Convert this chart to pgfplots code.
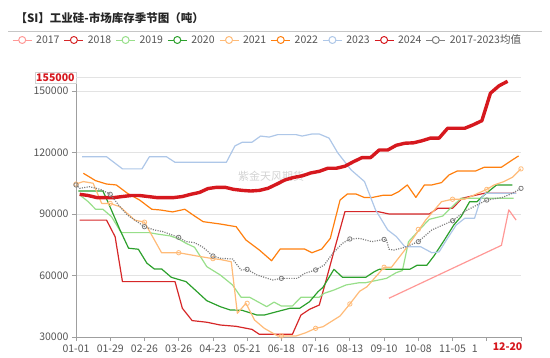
\documentclass[border=0pt]{standalone}
\usepackage{pgfplots}
\pgfplotsset{compat=1.18}
\usepackage{fontspec}
\setmainfont{Noto Sans CJK SC}
\definecolor{c17}{HTML}{FF9896}
\definecolor{c18}{HTML}{D62728}
\definecolor{c19}{HTML}{98DF8A}
\definecolor{c20}{HTML}{2CA02C}
\definecolor{c21}{HTML}{FFBB78}
\definecolor{c22}{HTML}{FF7F0E}
\definecolor{c23}{HTML}{AEC7E8}
\definecolor{c24}{HTML}{D6181E}
\definecolor{cavg}{HTML}{7F7F7F}
\definecolor{txt}{HTML}{555555}
\begin{document}
\begin{tikzpicture}[x=1pt,y=1pt]
\useasboundingbox (0,0) rectangle (550,357);
\node[anchor=west, font=\fontsize{11.5}{13}\selectfont\bfseries, text=black!85] at (12,339) {【SI】工业硅-市场库存季节图（吨）};
\draw[gray!45, line width=0.8pt] (8,326) -- (542,326);
\node[text=gray!35, font=\fontsize{11}{13}\selectfont] at (271,181) {紫金天风期货};
\begin{axis}[
  at={(76pt,20pt)}, anchor=south west,
  scale only axis, width=445pt, height=260pt,
  xmin=0, xmax=364, ymin=30000, ymax=156800,
  axis x line*=bottom, axis y line*=left,
  axis line style={draw=gray!75, line width=0.8pt, -},
  xtick={0,28,56,84,112,140,168,196,224,252,280,308,336,364},
  xticklabels={01-01,01-29,02-26,03-26,04-23,05-21,06-18,07-16,08-13,09-10,10-08,11-05,{\llap{1\hspace{9pt}}},{}},
  ytick={30000,60000,90000,120000,150000},
  scaled y ticks=false,
  /pgf/number format/assume math mode=true,
  yticklabel style={/pgf/number format/1000 sep={}, /pgf/number format/fixed},
  tick label style={text=txt, font=\fontsize{10.5}{12}\selectfont},
  ymajorgrids, grid style={gray!22, line width=0.8pt},
  tick style={gray!75, line width=0.8pt},
  major tick length=4pt, tick align=outside,
  extra y ticks={155000},
  extra y tick labels={155000},
  extra y tick style={grid=none, major tick length=0pt, tick label style={text=c24, font=\fontsize{10.5}{12}\selectfont\bfseries, fill=white, draw=gray!35, inner sep=1.2pt, yshift=3pt}},
  extra x ticks={353},
  extra x tick labels={12-20},
  extra x tick style={major tick length=0pt, tick label style={text=c24, font=\fontsize{10.5}{12}\selectfont\bfseries, fill=white, inner sep=1.5pt, yshift=-4pt}},
  legend columns=9,
  legend style={at={(-0.1438,1.1423)}, anchor=west, draw=none, fill=none, inner sep=0pt,
    font=\fontsize{10.5}{12}\selectfont, text=txt, nodes={inner sep=0pt},
    /tikz/every odd column/.append style={column sep=4pt},
    /tikz/every even column/.append style={column sep=3.7pt}},
  legend image code/.code={\draw[#1, line width=1pt, solid] (0pt,0pt) -- (19pt,0pt); \draw[#1, line width=1pt, solid, fill=white] (9.5pt,0pt) circle (3.5pt);},
  every axis plot/.append style={line width=1.2pt, mark=none, line join=round},
]
\draw[gray!22, line width=0.8pt] (rel axis cs:0,1) -- (rel axis cs:1,1);
% 2017
\addplot[c17] coordinates {(256,48900) (348,74700) (354,92000) (360,87000)};
\addlegendentry{\makebox[24pt][l]{2017}}
% 2018
\addplot[c18] coordinates {(3,87000) (25,87000) (32,78900) (38,57000) (81,57000) (87,44000) (95,38000) (107,37200) (118,35850) (131,35200) (144,33700) (150,31300) (177,31300) (184,40700) (191,43500) (199,45600) (205,58600) (212,74000) (220,91150) (247,91150) (256,90000) (289,90000) (296,92800) (308,92800) (316,97700) (334,100100) (360,100100)};
\addlegendentry{\makebox[24pt][l]{2018}}
% 2019
\addplot[c19] coordinates {(3,99300) (10,96000) (16,92300) (22,92300) (29,88700) (37,80900) (60,80900) (66,80250) (77,79300) (83,78100) (90,75700) (97,73750) (107,64300) (118,60250) (128,55400) (135,49400) (142,49400) (156,44800) (162,47000) (168,45100) (177,45100) (184,49400) (199,49400) (203,51300) (211,52900) (221,55400) (232,56500) (237,56500) (254,58600) (262,61400) (267,62400) (272,76500) (282,83000) (289,87400) (300,89000) (305,92000) (315,97700) (358,97700)};
\addlegendentry{\makebox[24pt][l]{2019}}
% 2020
\addplot[c20] coordinates {(2,101200) (22,101200) (26,96000) (36,82200) (43,73300) (51,72800) (58,66000) (64,63200) (70,63200) (78,59100) (90,57000) (99,52100) (107,47700) (118,44800) (126,43200) (136,43000) (148,40700) (154,40700) (164,42300) (175,44000) (183,44000) (191,47200) (198,52100) (202,54200) (211,63000) (218,59100) (237,59100) (244,61850) (248,63000) (273,63000) (279,65000) (287,65000) (293,69700) (301,77000) (309,84600) (315,88700) (322,96000) (328,96000) (334,99300) (344,104150) (357,104150)};
\addlegendentry{\makebox[24pt][l]{2020}}
% 2021
\addplot[c21] coordinates {(0,104600) (6,105800) (14,105000) (21,95150) (28,95150) (36,93500) (48,87000) (56,86000) (70,71100) (84,71100) (99,69500) (112,68200) (118,67800) (127,66700) (132,41560) (139,46440) (146,38300) (154,34250) (165,30500) (180,30500) (188,32100) (196,34250) (202,35000) (216,40250) (224,46100) (232,52300) (238,54500) (252,64000) (258,64000) (271,74000) (286,87000) (299,96000) (308,97200) (318,97200) (336,102000) (342,104150) (350,105800) (357,107900) (364,112000)};
\addlegendentry{\makebox[24pt][l]{2021}}
% 2022
\addplot[c22] coordinates {(6,109850) (16,106250) (25,104600) (33,104150) (42,100100) (52,96800) (62,92300) (69,91950) (79,91000) (89,92300) (97,89000) (104,86250) (118,85100) (131,83800) (139,77300) (150,72400) (160,67200) (167,72900) (187,72900) (193,71100) (201,72900) (208,78100) (216,96800) (222,99750) (229,99750) (236,98000) (242,98000) (251,99100) (258,99100) (264,100900) (271,104150) (278,98100) (285,104150) (291,104150) (299,105300) (305,109000) (312,111000) (327,111000) (334,112800) (348,112800) (356,116000) (362,118300)};
\addlegendentry{\makebox[24pt][l]{2022}}
% 2023
\addplot[c23] coordinates {(5,117900) (25,117900) (38,112000) (54,112000) (60,117900) (74,117900) (81,115200) (123,115200) (130,123200) (136,125000) (144,125000) (151,128000) (158,127500) (165,128700) (180,128700) (185,128000) (193,129000) (199,129000) (207,127000) (214,119900) (225,111500) (236,105800) (245,92000) (255,82200) (262,79000) (269,74000) (282,74000) (291,71100) (297,71500) (303,77300) (311,84600) (318,87900) (326,87900) (331,97200) (335,100100) (360,100100)};
\addlegendentry{\makebox[24pt][l]{2023}}
% 2024
\addplot[c24, line width=3.4pt] coordinates {(3,99600) (10,99000) (17,98000) (24,98000) (31,98000) (38,98500) (45,99000) (52,99000) (59,98500) (66,98000) (73,98000) (80,98000) (87,98500) (94,99600) (101,100500) (108,102400) (115,103000) (122,103000) (129,102000) (136,101500) (143,101200) (150,101500) (157,102500) (164,104500) (171,106600) (178,107800) (185,108600) (192,110000) (199,110800) (206,112300) (213,112300) (220,113300) (227,115500) (234,117500) (241,117500) (248,121200) (255,121200) (262,123500) (269,124500) (276,124700) (283,125700) (290,127000) (297,127000) (304,131800) (311,131800) (318,131800) (325,133500) (332,135500) (339,148900) (346,152500) (353,154700)};
\addlegendentry{\makebox[24pt][l]{2024}}
% average
\addplot[cavg, line width=1.2pt, dash pattern=on 1.1pt off 1.3pt] coordinates {(0,104150) (3,102500) (11,103300) (20,102000) (28,99600) (36,93500) (42,89500) (50,86250) (56,83800) (64,82200) (71,81400) (84,78600) (90,76500) (97,76000) (104,73750) (112,69500) (118,68400) (128,68050) (135,62700) (140,63000) (148,60250) (161,57800) (168,58600) (181,58600) (187,61000) (196,62700) (203,65100) (210,70800) (218,75700) (224,77800) (232,78100) (242,76500) (252,77600) (254,77300) (256,72800) (260,72400) (269,73750) (280,76500) (291,82200) (308,86700) (319,91600) (336,96800) (349,98100) (357,100100) (364,102500)};
\addlegendentry{2017-2023均值}
% markers every four weeks
\addplot[c21, only marks, mark=o, mark size=2.2pt, line width=0.8pt, mark options={fill=white, solid}, forget plot] coordinates {(0,104600) (28,95150) (56,86000) (84,71100) (112,68200) (140,46440) (168,30500) (196,34250) (224,46100) (252,64000) (280,82500) (308,97200) (336,102000) (364,112000)};
\addplot[cavg, only marks, mark=o, mark size=2.2pt, line width=0.8pt, mark options={fill=white, solid}, forget plot] coordinates {(0,104150) (28,99600) (56,83800) (84,78600) (112,69500) (140,63000) (168,58600) (196,62700) (224,77800) (252,77600) (280,76500) (308,86700) (336,96800) (364,102500)};
\end{axis}
\end{tikzpicture}
\end{document}
